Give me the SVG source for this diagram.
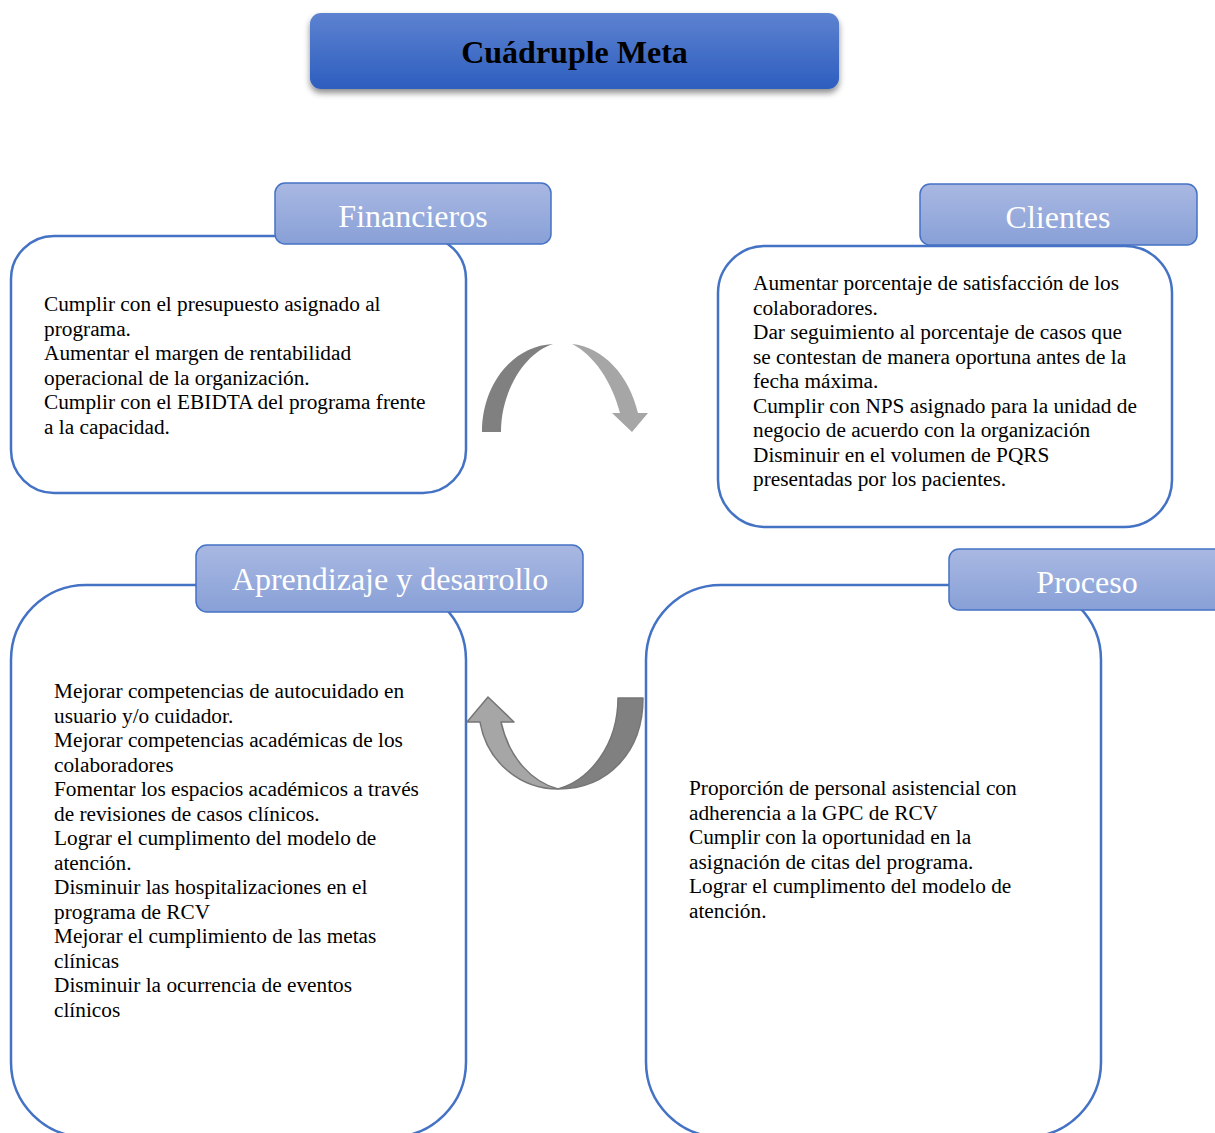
<svg xmlns="http://www.w3.org/2000/svg" width="1215" height="1133" viewBox="0 0 1215 1133">
  <style>
    .box { fill: #ffffff; stroke: #4472c4; stroke-width: 2.5; }
    .tab { fill: url(#tabGrad); stroke: #4472c4; stroke-width: 1.5; }
    .tabText { font-family: "Liberation Serif", "Times New Roman", serif; font-size: 32px; fill: #ffffff; text-anchor: middle; }
    .body { font-family: "Liberation Serif", "Times New Roman", serif; font-size: 21.3px; fill: #000000; }
    .title { font-family: "Liberation Serif", "Times New Roman", serif; font-size: 32px; font-weight: bold; fill: #000000; text-anchor: middle; }
    .arcDark { fill: #808080; }
    .arcLight { fill: #a6a6a6; }
    .arcLine { stroke: #767676; stroke-width: 1.5; stroke-linejoin: round; }
  </style>
  <defs>
    <linearGradient id="tabGrad" x1="0" y1="0" x2="0" y2="1">
      <stop offset="0" stop-color="#a9b8e2"/>
      <stop offset="1" stop-color="#88a0d7"/>
    </linearGradient>
    <linearGradient id="titleGrad" x1="0" y1="0" x2="0" y2="1">
      <stop offset="0" stop-color="#5d82d0"/>
      <stop offset="1" stop-color="#2d5ebf"/>
    </linearGradient>
    <filter id="shadow" x="-10%" y="-30%" width="120%" height="170%">
      <feDropShadow dx="0" dy="4" stdDeviation="3" flood-color="#000000" flood-opacity="0.45"/>
    </filter>
  </defs>

  <rect width="1215" height="1133" fill="#ffffff"/>

  <!-- title -->
  <g id="title">
    <rect x="310" y="13" width="529" height="76" rx="11" fill="url(#titleGrad)" filter="url(#shadow)"/>
    <text class="title" x="574.5" y="63">Cuádruple Meta</text>
  </g>

  <!-- Financieros -->
  <g id="financieros">
    <rect class="box" x="11" y="236" width="455" height="257" rx="43"/>
    <rect class="tab" x="275" y="183" width="276" height="61" rx="10"/>
    <text class="tabText" x="413" y="227">Financieros</text>
    <text class="body" x="44" y="311">
      <tspan x="44">Cumplir con el presupuesto asignado al</tspan>
      <tspan x="44" dy="24.5">programa.</tspan>
      <tspan x="44" dy="24.5">Aumentar el margen de rentabilidad</tspan>
      <tspan x="44" dy="24.5">operacional de la organización.</tspan>
      <tspan x="44" dy="24.5">Cumplir con el EBIDTA del programa frente</tspan>
      <tspan x="44" dy="24.5">a la capacidad.</tspan>
    </text>
  </g>

  <!-- Clientes -->
  <g id="clientes">
    <rect class="box" x="718" y="246" width="454" height="281" rx="47"/>
    <rect class="tab" x="920" y="184" width="277" height="61" rx="10"/>
    <text class="tabText" x="1058" y="228">Clientes</text>
    <text class="body" x="753" y="290">
      <tspan x="753">Aumentar porcentaje de satisfacción de los</tspan>
      <tspan x="753" dy="24.5">colaboradores.</tspan>
      <tspan x="753" dy="24.5">Dar seguimiento al porcentaje de casos que</tspan>
      <tspan x="753" dy="24.5">se contestan de manera oportuna antes de la</tspan>
      <tspan x="753" dy="24.5">fecha máxima.</tspan>
      <tspan x="753" dy="24.5">Cumplir con NPS asignado para la unidad de</tspan>
      <tspan x="753" dy="24.5">negocio de acuerdo con la organización</tspan>
      <tspan x="753" dy="24.5">Disminuir en el volumen de PQRS</tspan>
      <tspan x="753" dy="24.5">presentadas por los pacientes.</tspan>
    </text>
  </g>

  <!-- Aprendizaje y desarrollo -->
  <g id="aprendizaje">
    <rect class="box" x="11" y="585" width="455" height="552" rx="75"/>
    <rect class="tab" x="196" y="545" width="387" height="67" rx="11"/>
    <text class="tabText" x="390" y="590">Aprendizaje y desarrollo</text>
    <text class="body" x="54" y="698">
      <tspan x="54">Mejorar competencias de autocuidado en</tspan>
      <tspan x="54" dy="24.5">usuario y/o cuidador.</tspan>
      <tspan x="54" dy="24.5">Mejorar competencias académicas de los</tspan>
      <tspan x="54" dy="24.5">colaboradores</tspan>
      <tspan x="54" dy="24.5">Fomentar los espacios académicos a través</tspan>
      <tspan x="54" dy="24.5">de revisiones de casos clínicos.</tspan>
      <tspan x="54" dy="24.5">Lograr el cumplimento del modelo de</tspan>
      <tspan x="54" dy="24.5">atención.</tspan>
      <tspan x="54" dy="24.5">Disminuir las hospitalizaciones en el</tspan>
      <tspan x="54" dy="24.5">programa de RCV</tspan>
      <tspan x="54" dy="24.5">Mejorar el cumplimiento de las metas</tspan>
      <tspan x="54" dy="24.5">clínicas</tspan>
      <tspan x="54" dy="24.5">Disminuir la ocurrencia de eventos</tspan>
      <tspan x="54" dy="24.5">clínicos</tspan>
    </text>
  </g>

  <!-- Proceso -->
  <g id="proceso">
    <rect class="box" x="646" y="585" width="455" height="552" rx="75"/>
    <rect class="tab" x="949" y="549" width="277" height="61" rx="10"/>
    <text class="tabText" x="1087" y="593">Proceso</text>
    <text class="body" x="689" y="795">
      <tspan x="689">Proporción de personal asistencial con</tspan>
      <tspan x="689" dy="24.5">adherencia a la GPC de RCV</tspan>
      <tspan x="689" dy="24.5">Cumplir con la oportunidad en la</tspan>
      <tspan x="689" dy="24.5">asignación de citas del programa.</tspan>
      <tspan x="689" dy="24.5">Lograr el cumplimento del modelo de</tspan>
      <tspan x="689" dy="24.5">atención.</tspan>
    </text>
  </g>

  <!-- connectors: curved arrows between the quadrants -->
  <g id="connectors">
    <!-- upper arc, pointing down to the right -->
    <path class="arcDark" d="M482,432 C482,385 512,346 553,344 C526,352 501,390 501,432 Z"/>
    <path class="arcLight" d="M572,344 C603,347 629,375 638,413 L648,413 L632,432 L612,413 L620,413 C612,382 594,355 572,344 Z"/>
    <!-- lower arc, pointing up to the left -->
    <path class="arcDark arcLine" d="M643,698 C643,752 608,789 558,789 C590,780 618,745 618,698 Z"/>
    <path class="arcLight arcLine" d="M558,789 C520,789 487,762 480,722 L467,722 L488,697 L514,722 L501,722 C509,758 532,782 558,789 Z"/>
  </g>
</svg>
